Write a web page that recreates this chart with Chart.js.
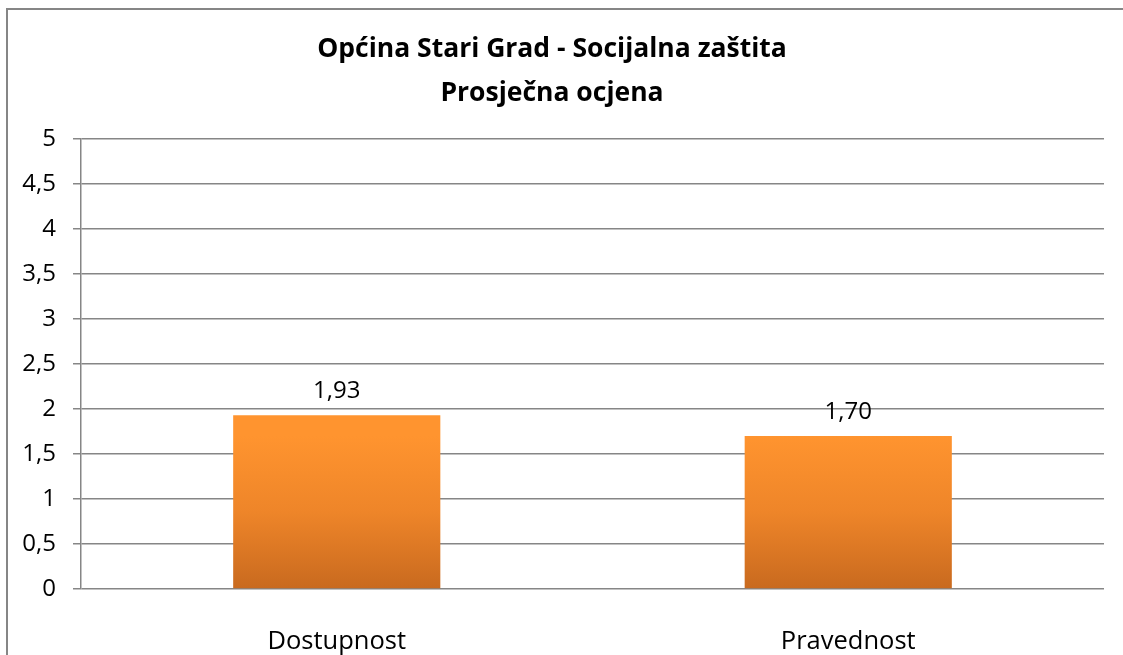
<!DOCTYPE html>
<html>
<head>
<meta charset="utf-8">
<script src="https://cdn.jsdelivr.net/npm/chart.js@4/dist/chart.umd.min.js"></script>
<style>
html,body{margin:0;padding:0;background:#fff;}
#wrap{position:relative;width:1123px;height:655px;}
</style>
</head>
<body>
<div id="wrap"><canvas id="c" width="1123" height="655"></canvas></div>
<script>
const titleLines = ["Općina Stari Grad - Socijalna zaštita", "Prosječna ocjena"];
const categories = ["Dostupnost", "Pravednost"];
const values = [1.93, 1.70];
const yMin = 0, yMax = 5, yStep = 0.5;

const FONT = "'Open Sans', 'Noto Sans', sans-serif";
const fmt = v => v.toLocaleString('hr-HR', {minimumFractionDigits: 2, maximumFractionDigits: 2});
const fmtTick = v => String(v).replace('.', ',');

const framePlugin = {
  id: 'frame',
  beforeDraw(chart) {
    const ctx = chart.ctx;
    ctx.save();
    ctx.fillStyle = '#fff';
    ctx.fillRect(0, 0, chart.width, chart.height);
    ctx.fillStyle = '#868686';
    ctx.fillRect(6, 8, 2, chart.height - 8);
    ctx.fillRect(6, 8, chart.width - 6, 2);
    ctx.restore();
  }
};

const gradientPlugin = {
  id: 'barGradient',
  beforeDatasetsDraw(chart) {
    const ctx = chart.ctx;
    chart.getDatasetMeta(0).data.forEach(el => {
      const g = ctx.createLinearGradient(0, el.y, 0, el.base);
      g.addColorStop(0, '#FF942F');
      g.addColorStop(0.5, '#EE8529');
      g.addColorStop(1, '#C96A1F');
      el.options.backgroundColor = g;
    });
  }
};

const labelPlugin = {
  id: 'valueLabels',
  afterDatasetsDraw(chart) {
    const ctx = chart.ctx;
    const ds = chart.data.datasets[0];
    ctx.save();
    ctx.font = '24px ' + FONT;
    ctx.fillStyle = '#000';
    ctx.textAlign = 'center';
    ctx.textBaseline = 'middle';
    chart.getDatasetMeta(0).data.forEach((el, i) => {
      ctx.fillText(fmt(ds.data[i]), el.x, el.y - 24);
    });
    ctx.restore();
  }
};

new Chart(document.getElementById('c'), {
  type: 'bar',
  data: {
    labels: categories,
    datasets: [{
      data: values,
      backgroundColor: '#F28A2B',
      borderWidth: 0,
      categoryPercentage: 1.0,
      barPercentage: 0.405
    }]
  },
  plugins: [framePlugin, gradientPlugin, labelPlugin],
  options: {
    responsive: false,
    animation: false,
    devicePixelRatio: 1,
    layout: { padding: { left: 0, right: 19, top: 0, bottom: 0 } },
    plugins: {
      legend: { display: false },
      tooltip: { enabled: false },
      title: {
        display: true,
        text: titleLines,
        color: '#000',
        font: { family: FONT, size: 26.5, weight: 'bold', lineHeight: 1.68 },
        padding: { top: 27, bottom: 23 }
      }
    },
    scales: {
      x: {
        grid: { display: false },
        border: { display: false },
        ticks: { color: '#000', font: { family: FONT, size: 25.5 }, padding: 29 },
        afterFit(s) { s.height = 66; }
      },
      y: {
        min: yMin, max: yMax,
        grid: { color: '#868686', lineWidth: 1.5, tickLength: 8, drawTicks: true },
        border: { display: true, color: '#868686', width: 1.5 },
        ticks: { stepSize: yStep, color: '#000', font: { family: FONT, size: 24 }, padding: 17, callback: v => fmtTick(v) },
        afterFit(s) { s.width = 81; }
      }
    }
  }
});
</script>
</body>
</html>
